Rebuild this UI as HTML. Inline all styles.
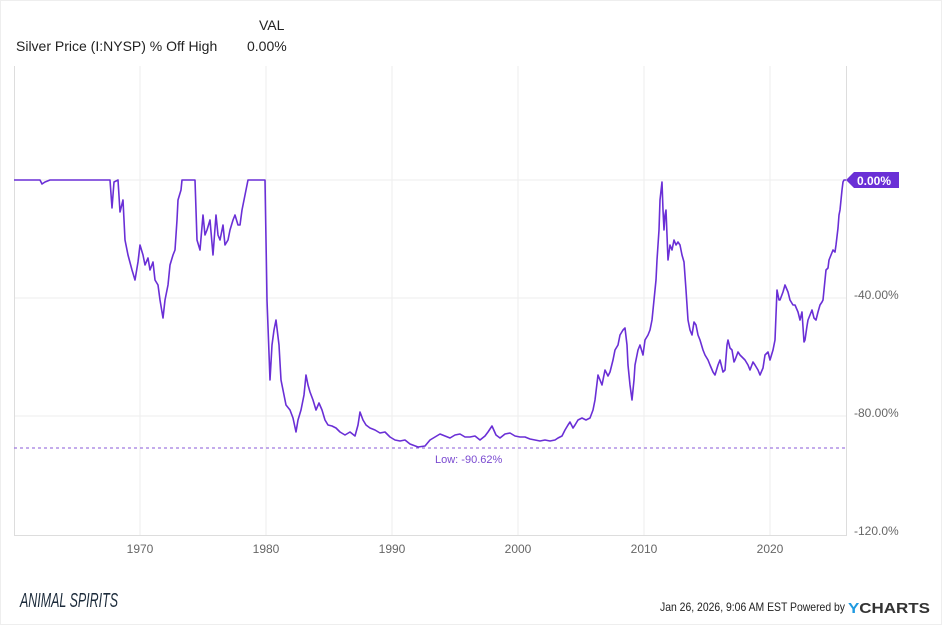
<!DOCTYPE html>
<html><head><meta charset="utf-8"><style>
body{margin:0;background:#fff;}
svg{display:block;font-family:"Liberation Sans",sans-serif;}
</style></head><body>
<svg width="942" height="625" viewBox="0 0 942 625">
<rect x="0.5" y="0.5" width="941" height="624" fill="#fff" stroke="#eee"/>
<text x="259" y="30" font-size="14" fill="#222">VAL</text>
<text x="16" y="51" font-size="14" fill="#222">Silver Price (I:NYSP) % Off High</text>
<text x="247" y="51" font-size="14" fill="#222">0.00%</text>
<g stroke="#eeeeee" stroke-width="1">
<line x1="140" y1="66" x2="140" y2="535"/><line x1="266" y1="66" x2="266" y2="535"/>
<line x1="392" y1="66" x2="392" y2="535"/><line x1="518" y1="66" x2="518" y2="535"/>
<line x1="644" y1="66" x2="644" y2="535"/><line x1="770" y1="66" x2="770" y2="535"/>
<line x1="14" y1="180" x2="846" y2="180"/><line x1="14" y1="298" x2="846" y2="298"/>
<line x1="14" y1="416" x2="846" y2="416"/>
</g>
<path d="M14.5 66V535.5H846.5V66" fill="none" stroke="#ddd"/>
<line x1="14" y1="448" x2="846" y2="448" stroke="#8a5ad8" stroke-dasharray="3,3" stroke-width="1"/>
<text x="435" y="463" font-size="11" fill="#7a4ad0">Low: -90.62%</text>
<polyline fill="none" stroke="#6a2fd6" stroke-width="1.6" stroke-linejoin="round" points="14,180 40,180 42,184 45,182 50,180 110,180 112,208 114,182 118,180 120,212 123,200 125,240 128,255 132,270 135,280 138,262 140,245 143,255 145,265 148,258 150,270 153,262 155,280 158,285 160,300 163,318 165,300 168,285 170,265 173,255 175,250 177,220 178,200 181,190 182,180 195,180 197,240 200,250 203,215 205,235 207,230 210,220 213,255 216,215 218,235 220,240 223,225 225,245 228,240 230,230 233,220 235,215 238,225 240,225 242,210 244,200 247,185 248,180 265,180 267,300 270,380 272,345 274,330 276,320 279,345 281,380 284,395 286,405 290,410 293,418 296,432 298,420 301,410 304,395 306,375 308,385 310,392 313,400 316,410 319,403 322,410 325,420 328,425 332,426 336,428 340,432 345,435 350,432 355,436 358,425 360,412 363,420 366,425 370,428 375,430 380,433 385,432 390,437 395,440 400,441 405,440 410,444 418,447 425,446 430,440 435,437 440,434 445,436 450,438 455,435 460,434 465,437 470,437 475,436 480,440 485,436 488,432 492,426 496,435 500,438 505,434 510,433 515,436 520,437 525,437 530,439 535,440 540,441 545,440 550,441 555,440 558,438 562,436 565,430 568,425 570,422 573,428 575,425 578,420 582,418 586,420 590,418 593,410 595,400 598,375 600,380 602,385 605,370 608,376 610,372 613,360 615,350 618,345 620,335 623,330 625,328 627,345 628,365 630,385 632,400 634,380 635,365 638,350 640,345 643,355 645,340 648,335 650,330 652,320 654,300 656,280 657,260 659,230 660,200 662,182 663,210 664,230 665,215 666,210 668,260 670,245 672,250 674,240 676,245 678,242 680,245 682,255 684,262 686,290 688,320 690,330 692,335 694,322 696,325 698,335 700,340 703,350 705,355 708,360 710,365 713,372 715,375 718,365 720,360 723,372 725,370 727,345 728,340 730,348 732,350 734,362 735,360 738,352 740,355 743,358 745,360 748,365 750,370 753,362 755,365 758,370 760,375 763,368 765,355 768,352 770,360 773,350 775,340 777,290 779,300 780,300 783,292 785,285 788,292 790,300 793,305 795,305 798,312 800,320 802,312 804,342 805,340 807,326 808,320 810,315 812,310 814,318 816,320 818,312 820,305 822,302 823,300 825,280 826,270 828,268 829,260 831,255 833,250 835,252 836,245 838,228 839,215 840,210 841,200 842,190 843,182 844,180 846,180"/>
<path d="M846 180L854 172H899V188H854Z" fill="#6a2fd6"/>
<text x="857" y="185" font-size="12" font-weight="bold" fill="#fff">0.00%</text>
<g font-size="12" fill="#666">
<text x="854" y="299">-40.00%</text>
<text x="854" y="417">-80.00%</text>
<text x="854" y="535">-120.0%</text>
</g>
<g font-size="12" fill="#666" text-anchor="middle">
<text x="140" y="553">1970</text><text x="266" y="553">1980</text><text x="392" y="553">1990</text>
<text x="518" y="553">2000</text><text x="644" y="553">2010</text><text x="770" y="553">2020</text>
</g>
<text x="20" y="607" font-size="20" fill="#1b2a3a" font-style="italic" textLength="98" lengthAdjust="spacingAndGlyphs">ANIMAL SPIRITS</text>
<text x="660" y="611" font-size="12" fill="#222" textLength="185" lengthAdjust="spacingAndGlyphs">Jan 26, 2026, 9:06 AM EST Powered by</text>
<text x="848" y="613" font-size="15" font-weight="bold" fill="#333" textLength="82" lengthAdjust="spacingAndGlyphs"><tspan fill="#1f9ae0">Y</tspan>CHARTS</text>
</svg>
</body></html>
